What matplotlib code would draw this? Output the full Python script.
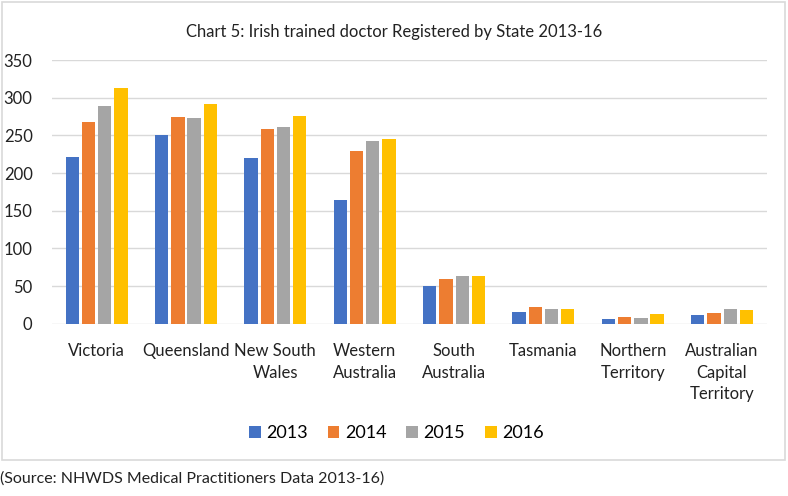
import numpy as np
import matplotlib.pyplot as plt
from matplotlib.patches import Rectangle

states = ["Victoria", "Queensland", "New South\nWales", "Western\nAustralia",
          "South\nAustralia", "Tasmania", "Northern\nTerritory",
          "Australian\nCapital\nTerritory"]
years = ["2013", "2014", "2015", "2016"]
v2013 = [221, 251, 220, 164, 50, 16, 7, 12]
v2014 = [268, 274, 259, 229, 60, 22, 9, 14]
v2015 = [289, 273, 261, 242, 63, 20, 8, 20]
v2016 = [313, 292, 276, 245, 64, 20, 13, 18]
colors = ["#4472C4", "#ED7D31", "#A5A5A5", "#FFC000"]

plt.rcParams["font.family"] = ["Lato", "DejaVu Sans"]

fig = plt.figure(figsize=(7.88, 4.96), dpi=100)
ax = fig.add_axes([0.066, 0.347, 0.907, 0.532])

# outer chart frame
fig.patches.append(Rectangle((0.002, 0.072), 0.994, 0.924, transform=fig.transFigure,
                             fill=False, edgecolor="#D9D9D9", linewidth=1.2))

x = np.arange(len(states))
step, width = 0.182, 0.149
for i, (vals, c, yr) in enumerate(zip([v2013, v2014, v2015, v2016], colors, years)):
    ax.bar(x + (i - 1.5) * step, vals, width, color=c, label=yr, zorder=3)

ax.set_xlim(-0.5, len(states) - 0.5)
ax.set_ylim(0, 350)
ax.set_yticks(range(0, 351, 50))
ax.grid(axis="y", color="#D9D9D9", linewidth=1, zorder=0)
for s in ax.spines.values():
    s.set_visible(False)
ax.tick_params(length=0, colors="#222222")
ax.tick_params(axis="y", labelsize=12, pad=14)
ax.tick_params(axis="x", labelsize=12, pad=14)
ax.set_xticks(x)
ax.set_xticklabels(states, linespacing=1.4)

fig.text(0.5, 0.935, "Chart 5: Irish trained doctor Registered by State 2013-16",
         ha="center", va="center", fontsize=12, color="#222222")

fig.legend(loc="center", bbox_to_anchor=(0.503, 0.127), ncol=4, frameon=False,
           fontsize=13, handlelength=0.65, handleheight=0.65, handletextpad=0.3,
           columnspacing=1.1)

fig.text(0.0, 0.036, "(Source: NHWDS Medical Practitioners Data 2013-16)",
         ha="left", va="center", fontsize=11.5, color="#222222")

fig.savefig("out.png", dpi=100)
